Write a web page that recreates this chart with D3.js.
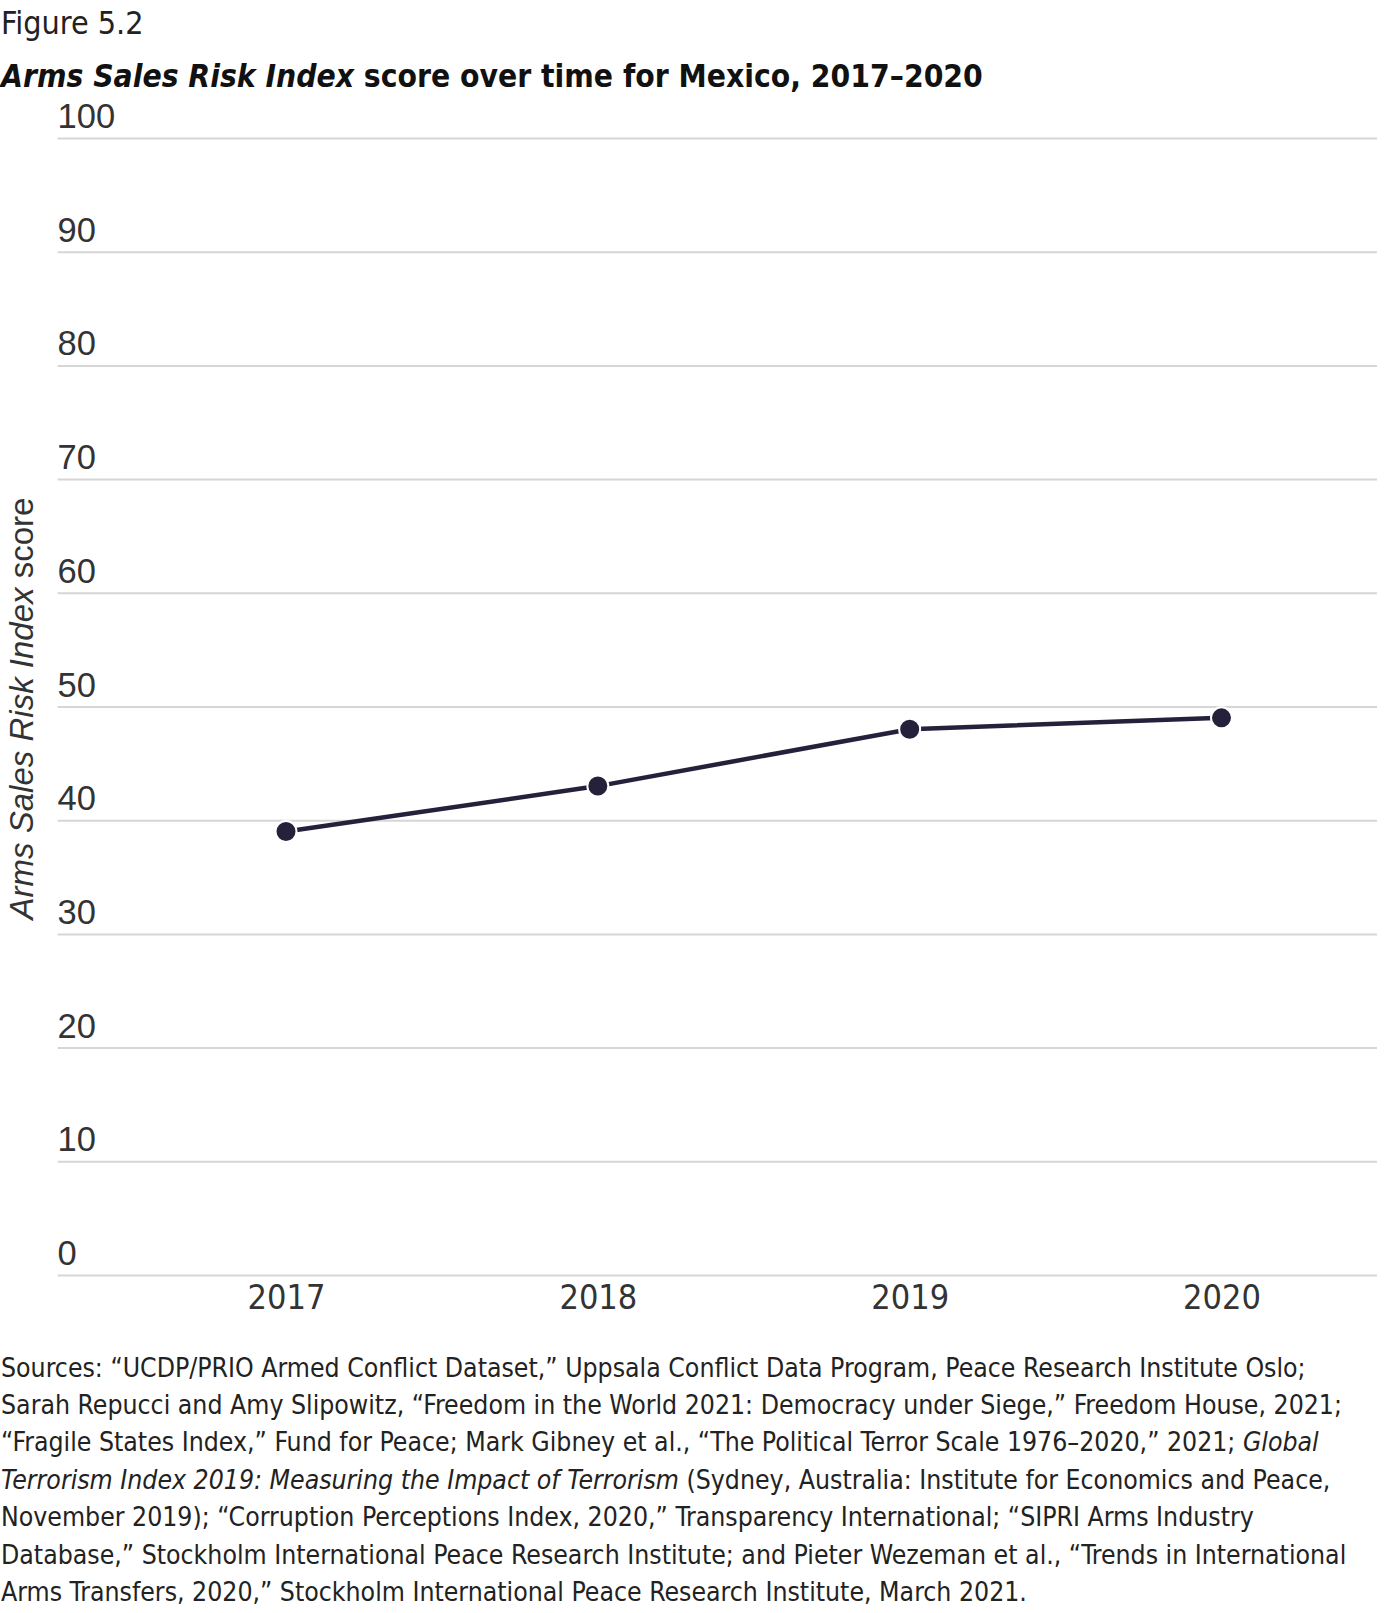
<!DOCTYPE html>
<html>
<head>
<meta charset="utf-8">
<script src="https://cdn.jsdelivr.net/npm/d3@7"></script>
<style>
  html, body { margin: 0; padding: 0; background: #fff; }
  svg text { fill: #222; }
</style>
</head>
<body>
<svg id="chart" width="1400" height="1613"></svg>
<script>
// data
const years = ["2017", "2018", "2019", "2020"];
const scores = [39, 43, 48, 49];
const yTicks = [0, 10, 20, 30, 40, 50, 60, 70, 80, 90, 100];

const sourceLines = [
  [["Sources: \u201cUCDP/PRIO Armed Conflict Dataset,\u201d Uppsala Conflict Data Program, Peace Research Institute Oslo;", false]],
  [["Sarah Repucci and Amy Slipowitz, \u201cFreedom in the World 2021: Democracy under Siege,\u201d Freedom House, 2021;", false]],
  [["\u201cFragile States Index,\u201d Fund for Peace; Mark Gibney et al., \u201cThe Political Terror Scale 1976\u20132020,\u201d 2021; ", false], ["Global", true]],
  [["Terrorism Index 2019: Measuring the Impact of Terrorism", true], [" (Sydney, Australia: Institute for Economics and Peace,", false]],
  [["November 2019); \u201cCorruption Perceptions Index, 2020,\u201d Transparency International; \u201cSIPRI Arms Industry", false]],
  [["Database,\u201d Stockholm International Peace Research Institute; and Pieter Wezeman et al., \u201cTrends in International", false]],
  [["Arms Transfers, 2020,\u201d Stockholm International Peace Research Institute, March 2021.", false]]
];

const narrow = "'Liberation Sans Narrow', 'DejaVu Sans Condensed', 'Liberation Sans', sans-serif";
const sans = "'Liberation Sans', Arial, sans-serif";

const svg = d3.select("#chart");

// header
svg.append("text")
  .attr("x", 1).attr("y", 34)
  .style("font-family", narrow).style("font-size", "32px")
  .text("Figure 5.2");

const title = svg.append("text")
  .attr("x", 1).attr("y", 87)
  .style("font-family", narrow).style("font-size", "31.5px").style("font-weight", "bold")
  .style("fill", "#111");
title.append("tspan").style("font-style", "italic").text("Arms Sales Risk Index");
title.append("tspan").text(" score over time for Mexico, 2017\u20132020");

// plot area
const plotLeft = 57.6, plotRight = 1377, plotTop = 138, plotBottom = 1275;

const y = d3.scaleLinear().domain([0, 100]).range([plotBottom, plotTop]);
const x = d3.scalePoint().domain(years).range([286, 1221.5]);

// gridlines + labels sitting above them
const yAxis = d3.axisLeft(y)
  .tickValues(yTicks)
  .tickSize(-(plotRight - plotLeft))
  .tickPadding(0);

const gy = svg.append("g")
  .attr("transform", `translate(${plotLeft},0)`)
  .call(yAxis);
gy.select(".domain").remove();
gy.selectAll(".tick line").attr("stroke", "#d6d6d6").attr("stroke-width", 2);
gy.selectAll(".tick text")
  .attr("x", 0).attr("dy", "-10.5px")
  .attr("text-anchor", "start")
  .style("font-family", sans).style("font-size", "34.5px")
  .style("fill", "#333");

// x axis labels
const xAxis = d3.axisBottom(x).tickSize(0).tickPadding(0);
const gx = svg.append("g")
  .attr("transform", `translate(0,${plotBottom})`)
  .call(xAxis);
gx.select(".domain").remove();
gx.selectAll(".tick text")
  .attr("dy", "34px")
  .style("font-family", narrow).style("font-size", "34px")
  .style("fill", "#333");

// y axis title
const yt = svg.append("text")
  .attr("transform", `translate(32.5,${(plotTop + plotBottom) / 2 + 2}) rotate(-90)`)
  .attr("text-anchor", "middle")
  .style("font-family", sans).style("font-size", "33px").style("fill", "#333");
yt.append("tspan").style("font-style", "italic").text("Arms Sales Risk Index");
yt.append("tspan").text(" score");

// line
const line = d3.line()
  .x((d, i) => x(years[i]))
  .y(d => y(d));

svg.append("path")
  .datum(scores)
  .attr("fill", "none")
  .attr("stroke", "#25213b")
  .attr("stroke-width", 4.5)
  .attr("d", line);

svg.append("g")
  .selectAll("circle")
  .data(scores)
  .join("circle")
  .attr("cx", (d, i) => x(years[i]))
  .attr("cy", d => y(d))
  .attr("r", 10.5)
  .attr("fill", "#25213b")
  .attr("stroke", "#fff")
  .attr("stroke-width", 2);

// source notes
const src = svg.append("g")
  .style("font-family", narrow).style("font-size", "26.4px").style("fill", "#333");
sourceLines.forEach((parts, i) => {
  const t = src.append("text").attr("x", 1).attr("y", 1376.5 + i * 37.4);
  parts.forEach(([s, it]) => {
    t.append("tspan").style("font-style", it ? "italic" : "normal").text(s);
  });
});
</script>
</body>
</html>
